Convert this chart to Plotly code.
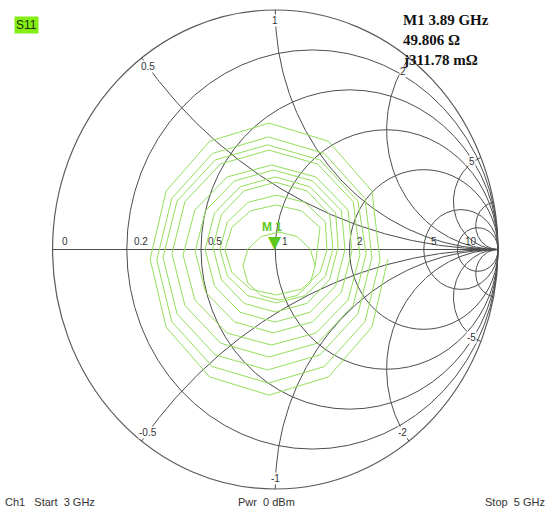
import numpy as np
import plotly.graph_objects as go

# ---------------- data ----------------
# Smith chart grid values (normalised impedance)
resistance_values = [0.2, 0.5, 1, 2, 5, 10]
reactance_values = [0.5, 1, 2, 5, 10]
resistance_tick_values = [0, 0.2, 0.5, 1, 2, 5, 10]
resistance_tick_labels = ["0", "0.2", "0.5", "1", "2", "5", "10"]
reactance_tick_values = [0.5, 1, 2, 5, -0.5, -1, -2, -5]
reactance_tick_labels = ["0.5", "1", "2", "5", "-0.5", "-1", "-2", "-5"]

s11_re = [
    0.506, 0.434, 0.239, -0.028, -0.295, -0.490, -0.562, -0.490, -0.295, -0.028, 0.239, 0.434,
    0.470, 0.403, 0.220, -0.031, -0.282, -0.465, -0.532, -0.465, -0.282, -0.031, 0.220, 0.403,
    0.434, 0.371, 0.200, -0.035, -0.270, -0.441, -0.504, -0.441, -0.270, -0.035, 0.200, 0.371,
    0.408, 0.350, 0.190, -0.028, -0.246, -0.406, -0.464, -0.406, -0.246, -0.028, 0.190, 0.350,
    0.380, 0.327, 0.182, -0.017, -0.216, -0.361, -0.414, -0.361, -0.216, -0.017, 0.182, 0.327,
    0.344, 0.297, 0.168, -0.008, -0.184, -0.313, -0.360, -0.313, -0.184, -0.008, 0.168, 0.297,
    0.313, 0.271, 0.156, -0.001, -0.158, -0.273, -0.315, -0.273, -0.158, -0.001, 0.156, 0.271,
    0.282, 0.244, 0.142, 0.001, -0.140, -0.242, -0.280, -0.242, -0.140, 0.001, 0.142, 0.244,
    0.259, 0.225, 0.132, 0.005, -0.122, -0.215, -0.249, -0.215, -0.122, 0.005, 0.132, 0.225,
    0.232, 0.201, 0.118, 0.003, -0.112, -0.195, -0.226, -0.195, -0.112, 0.003, 0.118, 0.201,
    0.179, 0.157, 0.098, 0.017, -0.064, -0.123, -0.145, -0.123, -0.064, 0.017, 0.098, 0.157,
    0.179,
]
s11_im = [
    -0.040, -0.324, -0.532, -0.608, -0.532, -0.324, -0.040, 0.244, 0.452, 0.528, 0.452, 0.244,
    -0.044, -0.301, -0.489, -0.558, -0.489, -0.301, -0.044, 0.213, 0.401, 0.470, 0.401, 0.213,
    -0.033, -0.268, -0.440, -0.503, -0.440, -0.268, -0.033, 0.202, 0.374, 0.437, 0.374, 0.202,
    -0.017, -0.233, -0.391, -0.449, -0.391, -0.233, -0.017, 0.199, 0.357, 0.415, 0.357, 0.199,
    -0.023, -0.211, -0.349, -0.399, -0.349, -0.211, -0.023, 0.165, 0.303, 0.353, 0.303, 0.165,
    -0.008, -0.178, -0.302, -0.348, -0.302, -0.178, -0.008, 0.162, 0.286, 0.332, 0.286, 0.162,
    0.000, -0.152, -0.262, -0.303, -0.262, -0.152, 0.000, 0.152, 0.262, 0.303, 0.262, 0.152,
    0.010, -0.126, -0.225, -0.261, -0.225, -0.126, 0.010, 0.146, 0.245, 0.281, 0.245, 0.146,
    0.002, -0.111, -0.193, -0.223, -0.193, -0.111, 0.002, 0.115, 0.197, 0.227, 0.197, 0.115,
    -0.002, -0.096, -0.165, -0.190, -0.165, -0.096, -0.002, 0.092, 0.161, 0.186, 0.161, 0.092,
    -0.069, -0.140, -0.192, -0.211, -0.192, -0.140, -0.069, 0.002, 0.054, 0.073, 0.054, 0.002,
    -0.069,
]

# Marker M1
marker_name = "M1"
marker_freq_ghz = 3.89
marker_r_ohm = 49.806
marker_x_ohm = 0.31178
z0_ohm = 50.0

# Footer texts
footer_left = "Ch1   Start  3 GHz"
footer_mid = "Pwr  0 dBm"
footer_right = "Stop  5 GHz"

# ---------------- styling ----------------
GRID = "#4d4d4d"
TRACE = "#96de5c"
MARK = "#5cc81e"
W, H = 549, 514

fig = go.Figure()

shapes = []
# outer circle (r = 0)
shapes.append(dict(type="circle", xref="x", yref="y", x0=-1, x1=1, y0=-1, y1=1,
                   line=dict(color="#5a5a5a", width=1.2), layer="below"))
for r in resistance_values:
    shapes.append(dict(type="circle", xref="x", yref="y",
                       x0=(r - 1) / (r + 1), x1=1, y0=-1 / (1 + r), y1=1 / (1 + r),
                       line=dict(color=GRID, width=1), layer="below"))
shapes.append(dict(type="line", xref="x", yref="y", x0=-1, x1=1, y0=0, y1=0,
                   line=dict(color=GRID, width=1), layer="below"))

# reactance arcs
rr = np.concatenate([np.linspace(0, 1, 120), np.logspace(0, 3.5, 300)])
for xv in reactance_values:
    for sgn in (1, -1):
        z = rr + 1j * sgn * xv
        g = (z - 1) / (z + 1)
        fig.add_trace(go.Scatter(x=g.real, y=g.imag, mode="lines",
                                 line=dict(color=GRID, width=1),
                                 hoverinfo="skip", showlegend=False))

# S11 trace
fig.add_trace(go.Scatter(x=s11_re, y=s11_im, mode="lines",
                         line=dict(color=TRACE, width=1),
                         hoverinfo="skip", showlegend=False))

annotations = []
lab_font = dict(family="Liberation Sans, Arial", size=10, color="#333333")
# resistance labels along real axis
for rv, lab in zip(resistance_tick_values, resistance_tick_labels):
    gx = (rv - 1) / (rv + 1)
    annotations.append(dict(x=gx, y=0, xref="x", yref="y", text=lab, showarrow=False,
                            xanchor="left", yanchor="bottom", xshift=5 if rv else 7, yshift=1,
                            font=lab_font))
# reactance labels near the outer circle
for xv, lab in zip(reactance_tick_values, reactance_tick_labels):
    g = (1j * xv - 1) / (1j * xv + 1)
    annotations.append(dict(x=g.real * 0.955, y=g.imag * 0.955, xref="x", yref="y", text=lab,
                            showarrow=False, xanchor="center", yanchor="middle",
                            yshift=-5 if xv == 2 else 0,
                            font=lab_font, bgcolor="white", borderpad=0))

# marker M1 (triangle tip on the point, label above)
zm = complex(marker_r_ohm, marker_x_ohm) / z0_ohm
gm = (zm - 1) / (zm + 1)
annotations.append(dict(x=gm.real, y=gm.imag, xref="x", yref="y", text="▼", showarrow=False,
                        xanchor="center", yanchor="bottom", yshift=-5,
                        font=dict(family="DejaVu Sans", size=17, color=MARK)))
annotations.append(dict(x=gm.real, y=gm.imag, xref="x", yref="y", text="<b>M 1</b>",
                        showarrow=False, xanchor="center", yanchor="bottom", xshift=-3, yshift=13,
                        font=dict(family="Liberation Sans, Arial", size=12, color=MARK)))

# S11 tag
annotations.append(dict(x=14 / W, y=1 - 16 / H, xref="paper", yref="paper", text="S11",
                        showarrow=False, xanchor="left", yanchor="top",
                        bgcolor="#84ee14", borderpad=1,
                        font=dict(family="Liberation Sans, Arial", size=12, color="#1a3300")))

# marker readout
info_font = dict(family="Liberation Serif, Times New Roman", size=15, color="#111111")
readout = [f"<b>{marker_name} {marker_freq_ghz:.2f} GHz</b>",
           f"<b>{marker_r_ohm:.3f} Ω</b>",
           f"<b>j{marker_x_ohm * 1000:.2f} mΩ</b>"]
for i, t in enumerate(readout):
    annotations.append(dict(x=401 / W, y=1 - (20 + 20 * i) / H, xref="paper", yref="paper",
                            text=t, showarrow=False, xanchor="left", yanchor="middle",
                            font=info_font))

# footer
foot_font = dict(family="Liberation Sans, Arial", size=11, color="#333333")
annotations.append(dict(x=3 / W, y=1 - 502 / H, xref="paper", yref="paper", text=footer_left.replace(" ", "&nbsp;"),
                        showarrow=False, xanchor="left", yanchor="middle", font=foot_font))
annotations.append(dict(x=236 / W, y=1 - 502 / H, xref="paper", yref="paper", text=footer_mid.replace(" ", "&nbsp;"),
                        showarrow=False, xanchor="left", yanchor="middle", font=foot_font))
annotations.append(dict(x=547 / W, y=1 - 502 / H, xref="paper", yref="paper", text=footer_right.replace(" ", "&nbsp;"),
                        showarrow=False, xanchor="right", yanchor="middle", font=foot_font))

fig.update_layout(
    width=W, height=H,
    margin=dict(l=0, r=0, t=0, b=0),
    paper_bgcolor="white", plot_bgcolor="white",
    xaxis=dict(range=[-1.236, 1.229], visible=False, fixedrange=True),
    yaxis=dict(range=[-1.1044, 1.0418], visible=False, fixedrange=True),
    shapes=shapes, annotations=annotations, showlegend=False,
)

fig.write_html("out.html",
               config={"displayModeBar": False, "staticPlot": True},
               post_script="document.body.style.margin='0px';document.body.style.overflow='hidden';")
